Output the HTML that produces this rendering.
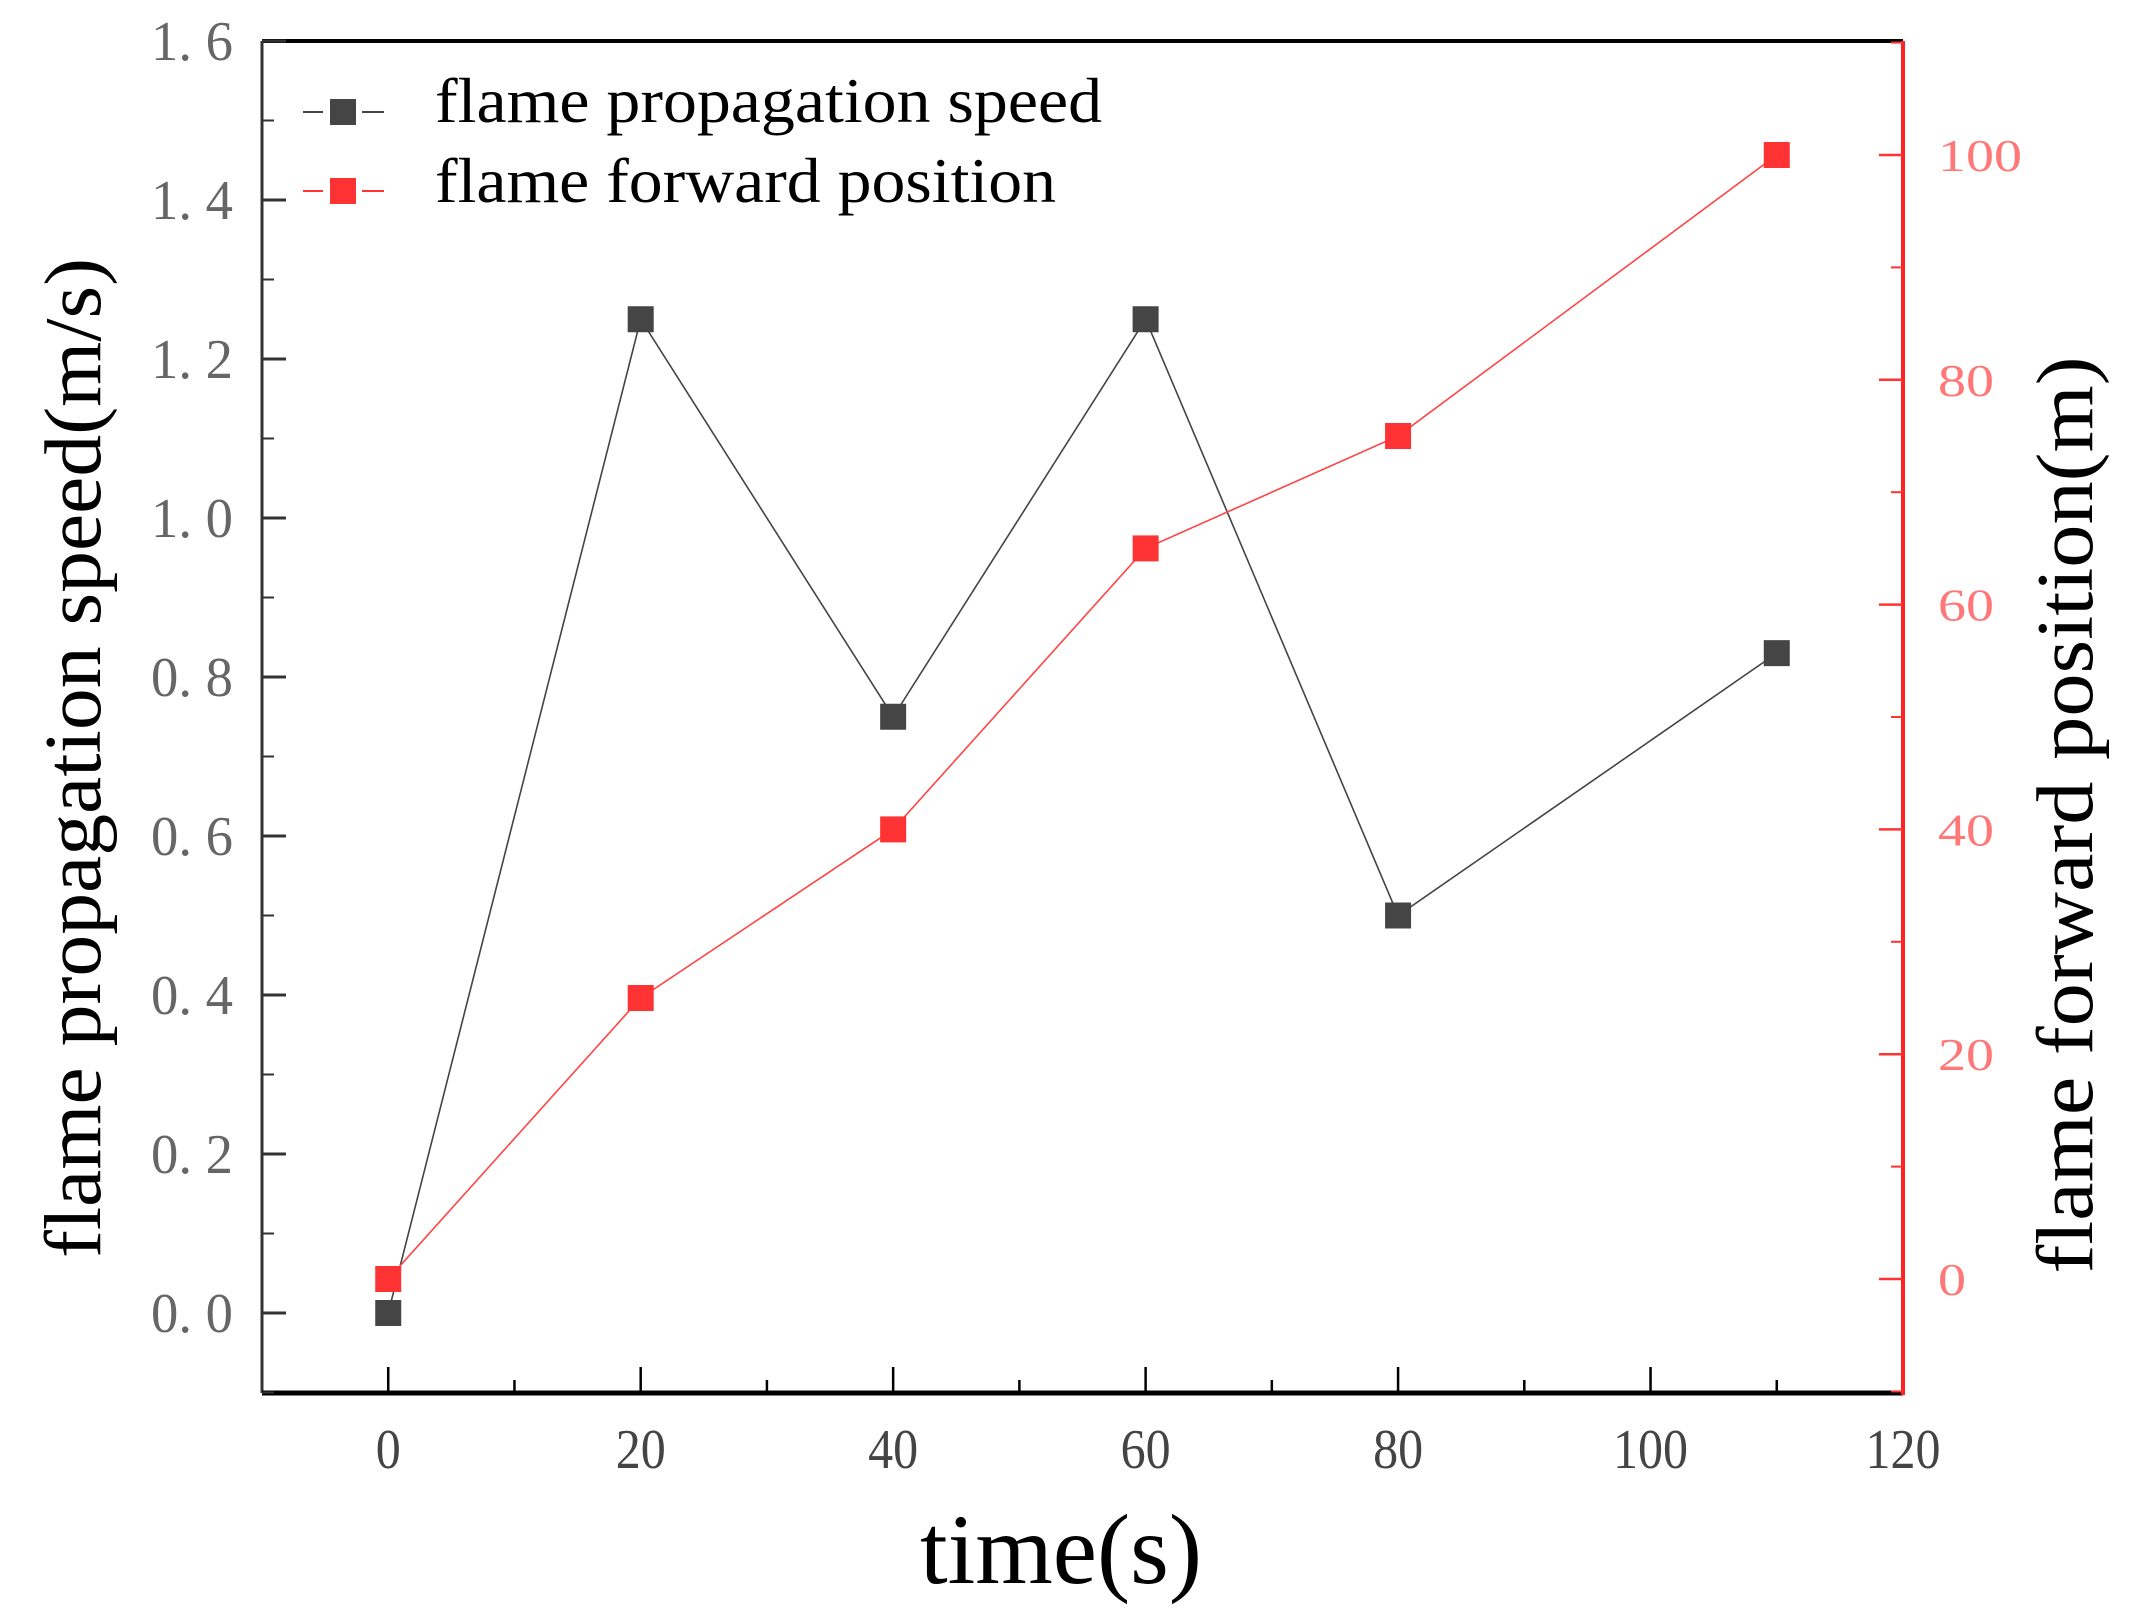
<!DOCTYPE html>
<html><head><meta charset="utf-8"><style>
body{margin:0;background:#fff}
svg{display:block}
text{font-family:"Liberation Serif",serif}
</style></head><body>
<svg id="chart" width="2135" height="1615" viewBox="0 0 2135 1615">
<g id="axes"></g><g id="series"></g>
<g>
<line x1="303" y1="112" x2="323" y2="112" stroke="#444" stroke-width="2"/>
<line x1="362" y1="112" x2="384" y2="112" stroke="#444" stroke-width="2"/>
<rect x="330" y="99" width="26" height="26" fill="#454545"/>
<text x="435" y="122" font-size="64" textLength="667" lengthAdjust="spacingAndGlyphs" fill="#000">flame propagation speed</text>
<line x1="303" y1="191" x2="323" y2="191" stroke="#f33" stroke-width="2"/>
<line x1="362" y1="191" x2="384" y2="191" stroke="#f33" stroke-width="2"/>
<rect x="330" y="178" width="26" height="26" fill="#f33"/>
<text x="435" y="202" font-size="64" textLength="621" lengthAdjust="spacingAndGlyphs" fill="#000">flame forward position</text>
</g>
<text transform="translate(100,758) rotate(-90)" text-anchor="middle" font-size="80" textLength="1000" lengthAdjust="spacingAndGlyphs" fill="#000">flame propagation speed(m/s)</text>
<text transform="translate(2092,815) rotate(-90)" text-anchor="middle" font-size="80" textLength="917" lengthAdjust="spacingAndGlyphs" fill="#000">flame forward position(m)</text>
<text x="1061" y="1583" text-anchor="middle" font-size="100" textLength="282" lengthAdjust="spacingAndGlyphs" fill="#000">time(s)</text>
</svg>
<script>
const times=[0,20,40,60,80,110];
const speedValues=[0,1.25,0.75,1.25,0.5,0.83];
const positionValues=[0,25,40,65,75,100];
const xTicks=[0,20,40,60,80,100,120];
const yLeftTicks=[0,0.2,0.4,0.6,0.8,1.0,1.2,1.4,1.6];
const yLeftLabels=["0. 0","0. 2","0. 4","0. 6","0. 8","1. 0","1. 2","1. 4","1. 6"];
const yRightTicks=[0,20,40,60,80,100];

const L=262,R=1903,T=41,B=1393;
const X=v=>L+(v+10)/130*(R-L);
const YL=v=>1313-v*795;
const YR=v=>1279-v*11.24;
const NS="http://www.w3.org/2000/svg";
function mk(tag,attrs,parent){const e=document.createElementNS(NS,tag);for(const k in attrs)e.setAttribute(k,attrs[k]);parent.appendChild(e);return e;}
const ax=document.getElementById('axes'),se=document.getElementById('series');

let e;
e=mk('line',{x1:L,y1:T,x2:R,y2:T,stroke:'#000','stroke-width':4},ax);


e=mk('line',{x1:L,y1:T,x2:L,y2:B,stroke:'#333','stroke-width':3},ax);


e=mk('line',{x1:L,y1:B,x2:R,y2:B,stroke:'#000','stroke-width':5},ax);


e=mk('line',{x1:R,y1:T,x2:R,y2:B+2,stroke:'#f22','stroke-width':4},ax);



for(let v=0;v<=110;v+=10){
  const x=X(v),major=v%20===0;
  e=mk('line',{x1:x,y1:B,x2:x,y2:B-(major?26:13),stroke:'#000','stroke-width':2.5},ax);
  
  
}
xTicks.forEach(v=>{
  const s=String(v);
  e=mk('text',{x:X(v),y:1468,'text-anchor':'middle','font-size':56,fill:'#444',textLength:s.length*25,lengthAdjust:'spacingAndGlyphs'},ax);
  e.textContent=s;
  
  
});
yLeftTicks.forEach((v,i)=>{
  const y=YL(v);
  e=mk('line',{x1:L,y1:y,x2:L+24,y2:y,stroke:'#333','stroke-width':3},ax);
  
  
  if(i<yLeftTicks.length-1){
    e=mk('line',{x1:L,y1:YL(v+0.1),x2:L+12,y2:YL(v+0.1),stroke:'#333','stroke-width':2},ax);
    
    
  }
  e=mk('text',{x:233,y:y+19,'text-anchor':'end','font-size':56,fill:'#666',textLength:82,lengthAdjust:'spacingAndGlyphs'},ax);
  e.textContent=yLeftLabels[i];
  
  
});
e=mk('line',{x1:L,y1:YL(-0.1),x2:L+12,y2:YL(-0.1),stroke:'#333','stroke-width':2},ax);
yRightTicks.forEach(v=>{
  const y=YR(v);
  e=mk('line',{x1:R,y1:y,x2:R-24,y2:y,stroke:'#f33','stroke-width':2.5},ax);
  
  
  e=mk('line',{x1:R,y1:YR(v+10),x2:R-12,y2:YR(v+10),stroke:'#f33','stroke-width':2},ax);
  
  
  const s=String(v);
  e=mk('text',{x:1938,y:y+16,'font-size':46,fill:'#f77',textLength:s.length*28,lengthAdjust:'spacingAndGlyphs'},ax);
  e.textContent=s;
  
  
});
e=mk('line',{x1:R,y1:YR(-10),x2:R-12,y2:YR(-10),stroke:'#f33','stroke-width':2},ax);

function series(vals,Y,color,lineColor,name){
  const pts=times.map((t,i)=>X(t)+','+Y(vals[i])).join(' ');
  let p=mk('polyline',{points:pts,fill:'none',stroke:lineColor,'stroke-width':1.6},se);
  
  
  times.forEach((t,i)=>{
    let r=mk('rect',{x:X(t)-13,y:Y(vals[i])-13,width:26,height:26,fill:color},se);
    
    
  });
}
series(speedValues,YL,'#454545','#444','speed');
series(positionValues,YR,'#f33','#f44','position');
</script>
</body></html>
